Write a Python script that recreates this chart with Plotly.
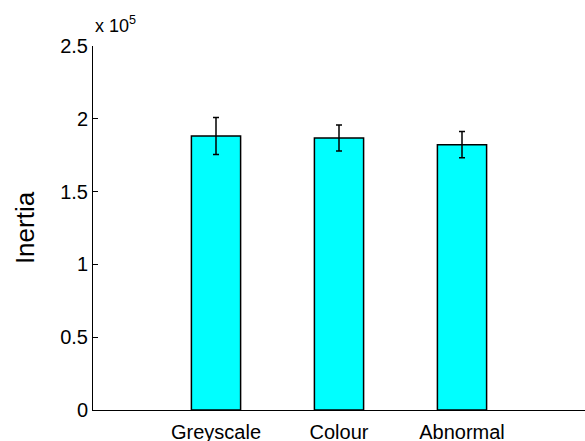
import plotly.graph_objects as go

categories = ["Greyscale", "Colour", "Abnormal"]
inertia = [188200, 186800, 182200]
inertia_err = [12700, 9000, 9000]
ytick_vals = [0, 50000, 100000, 150000, 200000, 250000]
ytick_text = ["0", "0.5", "1", "1.5", "2", "2.5"]

font_family = "Liberation Sans, Arial, Helvetica, sans-serif"

fig = go.Figure()
fig.add_trace(go.Bar(
    x=[1, 2, 3],
    y=inertia,
    width=0.4,
    marker=dict(color="#00FFFF", line=dict(color="black", width=1.5)),
    error_y=dict(type="data", array=inertia_err, visible=True,
                 color="black", thickness=1.5, width=3),
    showlegend=False,
))

fig.update_layout(
    width=585, height=441,
    margin=dict(l=93, r=0, t=46, b=31, autoexpand=False),
    plot_bgcolor="white", paper_bgcolor="white",
    font=dict(family=font_family, color="black", size=20),
    xaxis=dict(
        range=[0, 4],
        tickmode="array", tickvals=[1, 2, 3], ticktext=categories,
        showline=True, linecolor="black", linewidth=1,
        ticks="", showgrid=False, zeroline=False,
        tickfont=dict(size=20), automargin=False,
        ticklabelstandoff=4,
    ),
    yaxis=dict(
        range=[0, 250000],
        tickmode="array", tickvals=ytick_vals, ticktext=ytick_text,
        showline=True, linecolor="black", linewidth=1,
        ticks="inside", ticklen=5, tickcolor="black", tickwidth=1,
        showgrid=False, zeroline=False,
        tickfont=dict(size=20), automargin=False,
        title=dict(text="Inertia", font=dict(size=26), standoff=18),
    ),
    annotations=[dict(
        text="x 10<sup>5</sup>", xref="paper", yref="paper",
        x=0.0, y=1.0, xanchor="left", yanchor="bottom",
        xshift=0, yshift=8, showarrow=False, font=dict(size=18),
    )],
)

fig.write_html("out.html", config={"displayModeBar": False},
               post_script="document.body.style.margin='0';document.body.style.overflow='hidden';")
